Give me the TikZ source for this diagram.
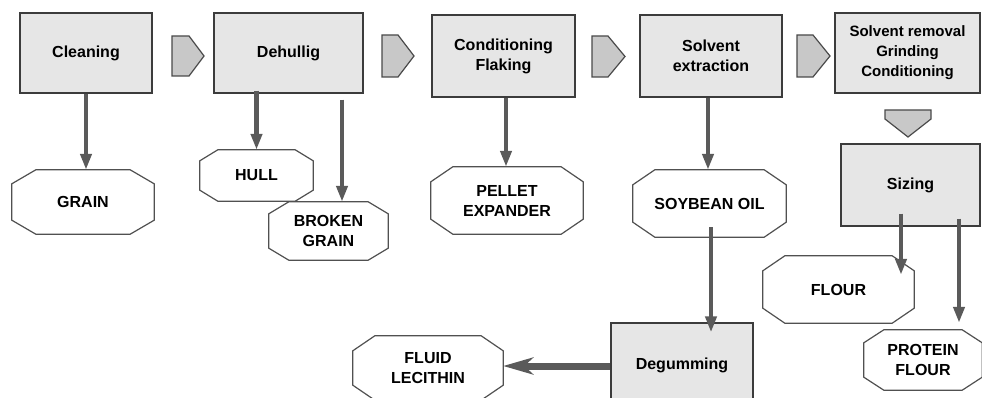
\documentclass[tikz,border=0pt]{standalone}
\usepackage{fontspec}
\setmainfont{Liberation Sans}
\usetikzlibrary{arrows.meta}
\definecolor{boxfill}{HTML}{E6E6E6}
\definecolor{boxline}{HTML}{3C3C3C}
\definecolor{pentfill}{HTML}{C8C8C8}
\definecolor{pentline}{HTML}{4A4A4A}
\definecolor{octline}{HTML}{505050}
\definecolor{connc}{HTML}{5A5A5A}
\tikzset{
  procbox/.style={draw=boxline, fill=boxfill, line width=1.3pt, inner sep=0pt,
    align=center, font=\fontsize{16}{20}\selectfont\bfseries},
  prodoct/.style={inner sep=0pt, align=center, font=\fontsize{16}{20}\selectfont\bfseries},
  octedge/.style={draw=octline, line width=1.2pt, line join=miter},
  pent/.style={draw=pentline, fill=pentfill, line width=1.2pt, line join=miter},
  conn/.style={draw=connc, line width=4.5pt, -{Triangle[length=16pt,width=11pt]}},
  bigconn/.style={draw=connc, line width=7pt, -{Stealth[length=30pt,width=17pt,inset=9pt]}}
}
\begin{document}
\begin{tikzpicture}[x=1pt,y=-1pt]
\useasboundingbox (0,0) rectangle (982,398);
\clip (0,0) rectangle (982,398);

% process boxes
\node[procbox, minimum width=132, minimum height=80] (clean) at (86,53) {Cleaning};
\node[procbox, minimum width=149, minimum height=80] (dehull) at (288.5,53) {Dehullig};
\node[procbox, minimum width=143, minimum height=82] (cond) at (503.5,56) {Conditioning\\Flaking};
\node[procbox, minimum width=142, minimum height=82] (solv) at (711,56) {Solvent\\extraction};
\node[procbox, minimum width=145, minimum height=80, font=\fontsize{15}{20}\selectfont\bfseries] (srem) at (907.5,53) {Solvent removal\\Grinding\\Conditioning};
\node[procbox, minimum width=139, minimum height=82] (sizing) at (910.5,185) {Sizing};
\node[procbox, minimum width=142, minimum height=84] (degum) at (682,365) {Degumming};

% product octagons
\node[prodoct, minimum width=142, minimum height=64] (grain) at (83,202) {GRAIN};
\node[prodoct, minimum width=113, minimum height=51] (hull) at (256.5,175.5) {HULL};
\node[prodoct, minimum width=119, minimum height=58] (broken) at (328.5,231) {BROKEN\\GRAIN};
\node[prodoct, minimum width=152, minimum height=67] (pellet) at (507,200.5) {PELLET\\EXPANDER};
\node[prodoct, minimum width=153, minimum height=67] (soy) at (709.5,203.5) {SOYBEAN OIL};
\node[prodoct, minimum width=151, minimum height=67] (flour) at (838.5,289.5) {FLOUR};
\node[prodoct, minimum width=118, minimum height=60] (protein) at (923,360) {PROTEIN\\FLOUR};
\node[prodoct, minimum width=150, minimum height=64] (lec) at (428,368) {FLUID\\LECITHIN};

\foreach \n/\cx/\cy in {grain/24/14, hull/18/11, broken/20/12, pellet/22/15,
    soy/22/15, flour/22/15, protein/20/13, lec/22/15}{
  \draw[octedge] ([xshift=\cx pt]\n.north west) -- ([xshift=-\cx pt]\n.north east)
    -- ([yshift=-\cy pt]\n.north east) -- ([yshift=\cy pt]\n.south east)
    -- ([xshift=-\cx pt]\n.south east) -- ([xshift=\cx pt]\n.south west)
    -- ([yshift=\cy pt]\n.south west) -- ([yshift=-\cy pt]\n.north west) -- cycle;
}

% flow pointers between steps
\draw[pent] (172,36) -- (189,36) -- (204,56) -- (189,76) -- (172,76) -- cycle;
\draw[pent] (382,35) -- (398,35) -- (414,56) -- (398,77) -- (382,77) -- cycle;
\draw[pent] (592,36) -- (608,36) -- (625,56.5) -- (608,77) -- (592,77) -- cycle;
\draw[pent] (797,35) -- (813,35) -- (830,56) -- (813,77) -- (797,77) -- cycle;
\draw[pent] (885,110) -- (931,110) -- (931,119) -- (908,137) -- (885,119) -- cycle;

% connectors
\draw[conn] (clean.south) -- (clean.south |- grain.north);
\draw[conn] ([yshift=3pt]dehull.south -| hull.north) -- (hull.north);
\draw[conn] ([xshift=13.5pt,yshift=-6pt]dehull.south -| broken.north) -- ([xshift=13.5pt]broken.north);
\draw[conn] ([xshift=-1pt]pellet.north |- cond.south) -- ([xshift=-1pt]pellet.north);
\draw[conn] ([xshift=-1.5pt]soy.north |- solv.south) -- ([xshift=-1.5pt]soy.north);
\draw[conn] ([xshift=1.5pt,yshift=10pt]soy.south) -- ([xshift=1.5pt,yshift=-10pt]soy.south |- degum.north);
\draw[bigconn] ([yshift=2pt]degum.west |- lec.east) -- ([yshift=2pt]lec.east);
\draw[conn] ([xshift=-9.5pt,yshift=13pt]sizing.south) -- ([xshift=-9.5pt,yshift=-19pt]sizing.south |- flour.north);
\draw[conn] ([xshift=48.5pt,yshift=8pt]sizing.south) -- ([xshift=48.5pt,yshift=7pt]sizing.south |- protein.north);
\end{tikzpicture}
\end{document}
